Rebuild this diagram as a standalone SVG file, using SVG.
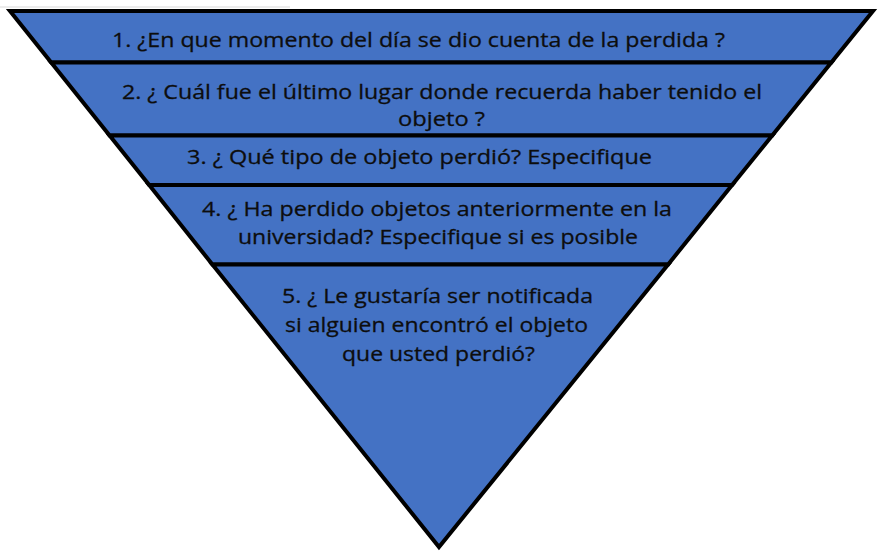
<svg xmlns="http://www.w3.org/2000/svg" width="887" height="557" viewBox="0 0 887 557">
<style>
.band{fill:#4472c4;stroke:#000;stroke-width:4;stroke-linejoin:miter}
.t{font-family:"Open Sans","Liberation Sans",sans-serif;font-size:20.5px;fill:#0d0d0d;stroke:#0d0d0d;stroke-width:0.3;text-anchor:middle}
</style>
<rect width="887" height="557" fill="#fff"/>
<line x1="0" y1="7" x2="290" y2="7" stroke="#e6e6e6" stroke-width="1.5"/>
<g id="band1">
<polygon class="band" points="10,11 873,11 831.3,62.5 51.2,62.5"/>
<text class="t" x="418.5" y="47" textLength="613" lengthAdjust="spacingAndGlyphs">1. ¿En que momento del día se dio cuenta de la perdida ?</text>
</g>
<g id="band2">
<polygon class="band" points="51.2,62.5 831.3,62.5 772.2,135.5 109.6,135.5"/>
<text class="t" x="442" y="99" textLength="640" lengthAdjust="spacingAndGlyphs">2. ¿ Cuál fue el último lugar donde recuerda haber tenido el</text>
<text class="t" x="441.5" y="126" textLength="87" lengthAdjust="spacingAndGlyphs">objeto ?</text>
</g>
<g id="band3">
<polygon class="band" points="109.6,135.5 772.2,135.5 732.1,185 149.2,185"/>
<text class="t" x="419.5" y="164" textLength="465" lengthAdjust="spacingAndGlyphs">3. ¿ Qué tipo de objeto perdió? Especifique</text>
</g>
<g id="band4">
<polygon class="band" points="149.2,185 732.1,185 668.1,264.5 212.4,264.5"/>
<text class="t" x="437" y="216" textLength="470" lengthAdjust="spacingAndGlyphs">4. ¿ Ha perdido objetos anteriormente en la</text>
<text class="t" x="438" y="244" textLength="400" lengthAdjust="spacingAndGlyphs">universidad? Especifique si es posible</text>
</g>
<g id="band5">
<polygon class="band" points="212.4,264.5 668.1,264.5 439,547"/>
<text class="t" x="437.5" y="303" textLength="311" lengthAdjust="spacingAndGlyphs">5. ¿ Le gustaría ser notificada</text>
<text class="t" x="436.5" y="332" textLength="303" lengthAdjust="spacingAndGlyphs">si alguien encontró el objeto</text>
<text class="t" x="438.5" y="361" textLength="193" lengthAdjust="spacingAndGlyphs">que usted perdió?</text>
</g>
<g id="connectors"></g>
</svg>
